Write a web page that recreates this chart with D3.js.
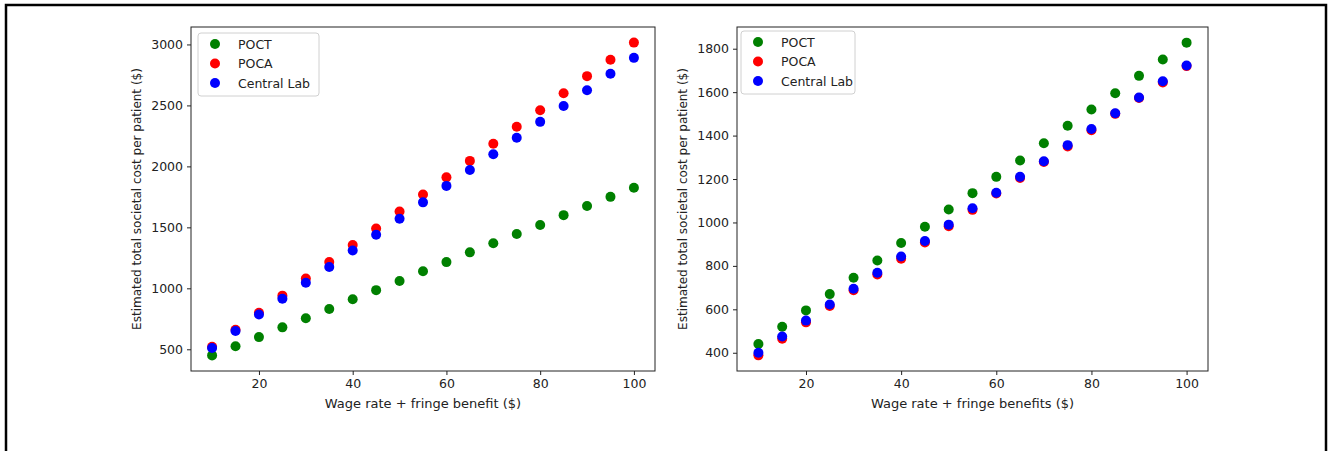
<!DOCTYPE html>
<html>
<head>
<meta charset="utf-8">
<script src="https://cdn.jsdelivr.net/npm/d3@7"></script>
<style>
  body { margin: 0; background: #fff; }
  svg { font-family: "DejaVu Sans", sans-serif; }
</style>
</head>
<body>
<svg id="chart" width="1329" height="451"></svg>
<script>
// wage rate values (x)
const wages = [10, 15, 20, 25, 30, 35, 40, 45, 50, 55, 60, 65, 70, 75, 80, 85, 90, 95, 100];

// left panel
const leftPOCT = [450, 525, 600, 680, 755, 830, 910, 985, 1060, 1140, 1215, 1295, 1370, 1445, 1520, 1600, 1675, 1750, 1825];
const leftPOCA = [520, 660, 800, 940, 1080, 1215, 1355, 1490, 1630, 1770, 1910, 2045, 2185, 2325, 2460, 2600, 2740, 2875, 3015];
const leftCentral = [510, 650, 785, 915, 1045, 1175, 1310, 1440, 1570, 1705, 1840, 1970, 2100, 2235, 2365, 2495, 2625, 2760, 2890];

// right panel
const rightPOCT = [440, 520, 595, 670, 745, 825, 905, 980, 1060, 1135, 1210, 1285, 1365, 1445, 1520, 1595, 1675, 1750, 1828];
const rightPOCA = [388, 465, 540, 615, 688, 760, 833, 908, 983, 1058, 1133, 1205, 1278, 1350, 1425, 1500, 1573, 1645, 1720];
const rightCentral = [400, 475, 548, 622, 695, 768, 843, 915, 990, 1065, 1137, 1210, 1282, 1356, 1430, 1503, 1575, 1650, 1723];

const seriesNames = ["POCT", "POCA", "Central Lab"];
const seriesColors = ["#008000", "#ff0000", "#0000ff"];

const xTicks = [20, 40, 60, 80, 100];
const leftYTicks = [500, 1000, 1500, 2000, 2500, 3000];
const rightYTicks = [400, 600, 800, 1000, 1200, 1400, 1600, 1800];

const svg = d3.select("#chart");

// outer frame
svg.append("rect")
    .attr("x", 6).attr("y", 5)
    .attr("width", 1320).attr("height", 460)
    .attr("fill", "none")
    .attr("stroke", "#000")
    .attr("stroke-width", 2.5);

function drawPanel(opts) {
    const { left, right, top, bottom, xDomain, yDomain, yTicks, series, xLabel, yLabelX, legend } = opts;

    const x = d3.scaleLinear().domain(xDomain).range([left, right]);
    const y = d3.scaleLinear().domain(yDomain).range([bottom, top]);

    const g = svg.append("g");

    // points
    series.forEach((vals, i) => {
        g.append("g").selectAll("circle")
            .data(vals)
            .enter()
            .append("circle")
            .attr("cx", (d, j) => x(wages[j]))
            .attr("cy", d => y(d))
            .attr("r", 5)
            .attr("fill", seriesColors[i]);
    });

    // axes
    const xAxis = g.append("g")
        .attr("transform", `translate(0, ${bottom})`)
        .call(d3.axisBottom(x).tickValues(xTicks).tickFormat(d3.format("d")).tickSize(4).tickPadding(4));
    const yAxis = g.append("g")
        .attr("transform", `translate(${left}, 0)`)
        .call(d3.axisLeft(y).tickValues(yTicks).tickFormat(d3.format("d")).tickSize(4).tickPadding(4));
    [xAxis, yAxis].forEach(a => {
        a.select(".domain").remove();
        a.selectAll("line").attr("stroke", "#222");
        a.selectAll("text")
            .attr("fill", "#222")
            .style("font-size", "12.5px")
            .style("font-family", "DejaVu Sans, sans-serif");
    });

    // frame
    g.append("rect")
        .attr("x", left).attr("y", top)
        .attr("width", right - left).attr("height", bottom - top)
        .attr("fill", "none")
        .attr("stroke", "#222")
        .attr("stroke-width", 1);

    // labels
    g.append("text")
        .attr("x", (left + right) / 2)
        .attr("y", bottom + 37)
        .attr("text-anchor", "middle")
        .attr("fill", "#222")
        .style("font-size", "13px")
        .text(xLabel);

    g.append("text")
        .attr("transform", `translate(${yLabelX}, ${(top + bottom) / 2}) rotate(-90)`)
        .attr("text-anchor", "middle")
        .attr("fill", "#222")
        .style("font-size", "12px")
        .text("Estimated total societal cost per patient ($)");

    // legend
    const lg = g.append("g").attr("transform", `translate(${legend.x}, ${legend.y})`);
    lg.append("rect")
        .attr("width", legend.w).attr("height", 63)
        .attr("rx", 3)
        .attr("fill", "#fff").attr("fill-opacity", 0.8)
        .attr("stroke", "#d0d0d0");
    seriesNames.forEach((name, i) => {
        lg.append("circle")
            .attr("cx", 17).attr("cy", 11 + i * 19.5)
            .attr("r", 5)
            .attr("fill", seriesColors[i]);
        lg.append("text")
            .attr("x", 40).attr("y", 15.5 + i * 19.5)
            .attr("fill", "#222")
            .style("font-size", "12.5px")
            .text(name);
    });
}

drawPanel({
    left: 191, right: 655, top: 27, bottom: 371,
    xDomain: [5.5, 104.5], yDomain: [322, 3143], yTicks: leftYTicks,
    series: [leftPOCT, leftPOCA, leftCentral],
    xLabel: "Wage rate + fringe benefit ($)",
    yLabelX: 141,
    legend: { x: 198, y: 33, w: 121 }
});

drawPanel({
    left: 737, right: 1208, top: 27, bottom: 371,
    xDomain: [5.5, 104.5], yDomain: [316, 1900], yTicks: rightYTicks,
    series: [rightPOCT, rightPOCA, rightCentral],
    xLabel: "Wage rate + fringe benefits ($)",
    yLabelX: 687,
    legend: { x: 741, y: 31, w: 114 }
});
</script>
</body>
</html>
